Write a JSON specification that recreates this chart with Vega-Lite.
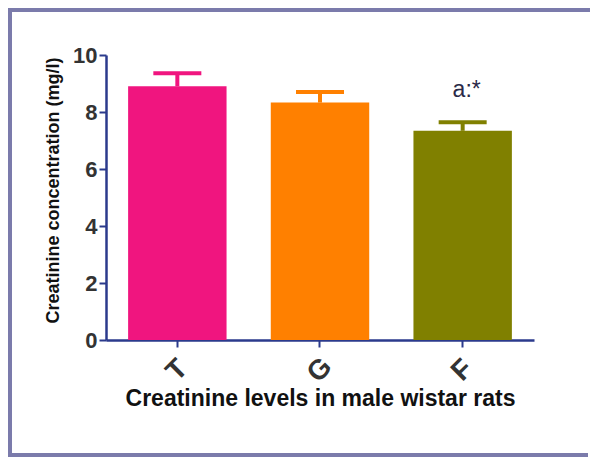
{
  "$schema": "https://vega.github.io/schema/vega-lite/v6.json",
  "autosize": {"type": "none"},
  "padding": {"left": 10, "top": 10, "right": 0, "bottom": 2},
  "width": 580,
  "height": 445,
  "background": "white",
  "config": {
    "view": {"stroke": "#7B7BAB", "strokeWidth": 4, "strokeDash": [582, 445, 1027, 0]},
    "font": "Liberation Sans",
    "axisX": {
      "offset": -115,
      "titleFont": "Liberation Sans",
      "titleFontSize": 23,
      "titleFontWeight": "bold",
      "titleColor": "#111111",
      "titleBaseline": "alphabetic",
      "titleY": 65,
      "labelAngle": -45,
      "labelAlign": "center",
      "labelBaseline": "middle",
      "labelPadding": 23,
      "labelFontSize": 28,
      "labelFontWeight": "bold",
      "labelColor": "#333333",
      "labelFont": "Liberation Sans",
      "domainColor": "#2B3A8C",
      "domainWidth": 2.5,
      "tickColor": "#2B3A8C",
      "tickWidth": 2,
      "tickSize": 7,
      "grid": false
    },
    "axisY": {
      "offset": -96,
      "titleFont": "Liberation Sans",
      "titleFontSize": 18,
      "titleFontWeight": "bold",
      "titleColor": "#111111",
      "titleBaseline": "alphabetic",
      "titleAngle": -90,
      "titleAlign": "center",
      "titleX": -48,
      "titleY": 180,
      "labelFontSize": 22,
      "labelFontWeight": "bold",
      "labelColor": "#333333",
      "labelFont": "Liberation Sans",
      "labelPadding": 2,
      "domainColor": "#2B3A8C",
      "domainWidth": 2.5,
      "tickColor": "#2B3A8C",
      "tickWidth": 2,
      "tickSize": 7,
      "grid": false
    }
  },
  "data": {
    "values": [
      {"group": "T", "mean": 8.9, "upper": 9.36, "label": ""},
      {"group": "G", "mean": 8.33, "upper": 8.7, "label": ""},
      {"group": "F", "mean": 7.34, "upper": 7.64, "label": "a:*"}
    ]
  },
  "encoding": {
    "x": {
      "field": "group",
      "type": "nominal",
      "sort": ["T", "G", "F"],
      "scale": {"range": [96, 524], "paddingInner": 0.31, "paddingOuter": 0.155},
      "title": "Creatinine levels in male wistar rats"
    }
  },
  "layer": [
    {
      "mark": {"type": "bar"},
      "encoding": {
        "y": {
          "field": "mean",
          "type": "quantitative",
          "scale": {"domain": [0, 10], "range": [330, 45], "nice": false},
          "axis": {"values": [0, 2, 4, 6, 8, 10]},
          "title": "Creatinine concentration (mg/l)"
        },
        "color": {
          "field": "group",
          "type": "nominal",
          "scale": {"domain": ["T", "G", "F"], "range": ["#F0157F", "#FF8000", "#808000"]},
          "legend": null
        }
      }
    },
    {
      "mark": {"type": "rule", "strokeWidth": 4, "opacity": 1},
      "encoding": {
        "y": {"field": "mean", "type": "quantitative", "title": "Creatinine concentration (mg/l)"},
        "y2": {"field": "upper"},
        "color": {"field": "group", "type": "nominal", "legend": null}
      }
    },
    {
      "mark": {"type": "tick", "thickness": 4, "size": 48, "opacity": 1},
      "encoding": {
        "y": {"field": "upper", "type": "quantitative", "title": "Creatinine concentration (mg/l)"},
        "color": {"field": "group", "type": "nominal", "legend": null}
      }
    },
    {
      "mark": {"type": "text", "fontSize": 23, "baseline": "alphabetic", "align": "center", "dy": -25, "dx": 4, "color": "#2A2A48", "font": "Liberation Sans"},
      "encoding": {
        "y": {"field": "upper", "type": "quantitative", "title": "Creatinine concentration (mg/l)"},
        "text": {"field": "label"}
      }
    }
  ]
}
